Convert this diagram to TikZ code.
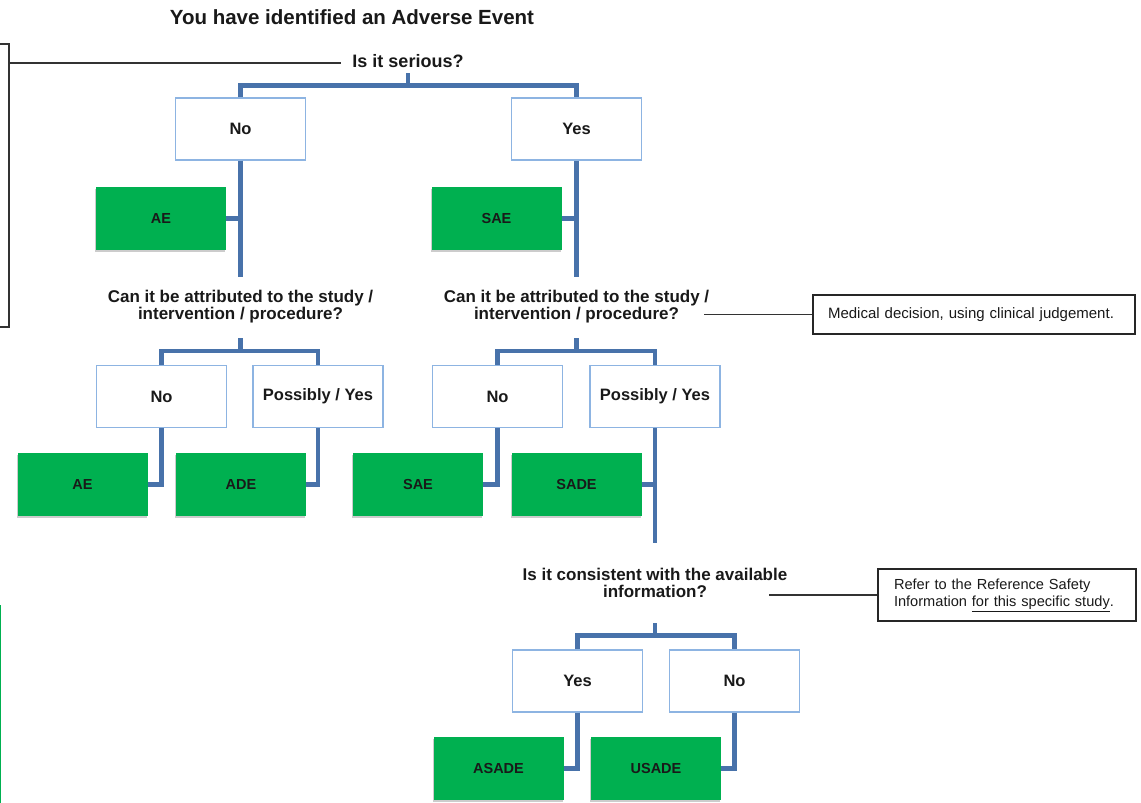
\documentclass[tikz,border=0pt]{standalone}
\usepackage{fontspec}
\setmainfont{Liberation Sans}
\usetikzlibrary{shadows,calc}
\definecolor{connc}{RGB}{72,114,170}
\definecolor{boxc}{RGB}{141,180,226}
\definecolor{greenc}{RGB}{0,176,80}
\begin{document}
\begin{tikzpicture}[x=1pt,y=-1pt,
 choice/.style={draw=boxc, line width=1.3pt, fill=white, minimum width=130pt, minimum height=62pt, font=\fontsize{16.5}{18}\selectfont\bfseries, inner sep=0pt, text=black!90},
 outcome/.style={fill=greenc, minimum width=130pt, minimum height=63pt, font=\fontsize{14.5}{16}\selectfont\bfseries, inner sep=0pt, text=black!90, drop shadow={shadow xshift=-1pt, shadow yshift=-2pt, opacity=0.2, fill=black}},
 question/.style={font=\fontsize{17}{17}\selectfont\bfseries, align=center, inner sep=0pt, text=black!90},
 conn/.style={draw=connc, line width=4.5pt},
 thinline/.style={draw=black!80, line width=1.2pt},
 note/.style={draw=black!85, line width=1.3pt, align=left, inner ysep=0pt, text=black!90}
]
\useasboundingbox (0,0) rectangle (1141,803);

% titles and questions
\node[question, font=\fontsize{20.5}{22}\selectfont\bfseries] (title) at (352,17) {You have identified an Adverse Event};
\node[question, font=\fontsize{18}{18}\selectfont\bfseries] (q1) at (408,61) {Is it serious?};
\node[question] (q2L) at (240.5,306.5) {Can it be attributed to the study /\\intervention / procedure?};
\node[question] (q2R) at (576.5,306.5) {Can it be attributed to the study /\\intervention / procedure?};
\node[question] (q3) at (655,582.5) {Is it consistent with the available\\information?};

% level 1
\node[choice] (no1) at (240.5,129) {No};
\node[choice] (yes1) at (576.5,129) {Yes};
\node[outcome] (ae1) at (161,218.5) {AE};
\node[outcome] (sae1) at (496.5,218.5) {SAE};

% level 2 left
\node[choice] (noL) at (161.5,396.5) {No};
\node[choice] (posL) at (318,396.5) {Possibly / Yes};
\node[outcome] (ae2) at (82.5,484.5) {AE};
\node[outcome] (ade) at (241,484.5) {ADE};

% level 2 right
\node[choice] (noR) at (497.5,396.5) {No};
\node[choice] (posR) at (655,396.5) {Possibly / Yes};
\node[outcome] (sae2) at (418,484.5) {SAE};
\node[outcome] (sade) at (576.5,484.5) {SADE};

% level 3
\node[choice] (yes3) at (577.5,681) {Yes};
\node[choice] (no3) at (734.5,681) {No};
\node[outcome] (asade) at (498.5,768.5) {ASADE};
\node[outcome] (usade) at (656,768.5) {USADE};

% notes
\node[note, font=\fontsize{15}{17.5}\selectfont, minimum width=322pt, minimum height=39pt, inner xsep=15pt, text width=292pt] (med) at (974,314.5) {Medical decision, using clinical judgement.};
\node[note, font=\fontsize{14.6}{17.5}\selectfont, minimum width=258pt, minimum height=52pt, inner xsep=16pt, text width=226pt] (ref) at (1007,595) {Refer to the Reference Safety\\\mbox{Information \underline{for this specific study}.}};

% coordinates
\coordinate (q1s) at (408,73);
\coordinate (e1) at (240.5,277);
\coordinate (e1r) at (576.5,277);
\coordinate (q2Ls) at (240.5,338);
\coordinate (q2Rs) at (576.5,338);
\coordinate (e2) at (655,543);
\coordinate (q3s) at (655,623);
\coordinate (brk) at (9,63);
\coordinate (q1w) at ($(q1.west)+(-11,2)$);

% blue connectors
\draw[conn] (q1s) -- ++(0,13);
\draw[conn] (no1.north) -- ++(0,-12) -| (yes1.north);
\draw[conn] (no1.south) -- (e1);
\draw[conn] (yes1.south) -- (e1r);
\draw[conn] (ae1.east) -- (ae1.east -| no1.south);
\draw[conn] (sae1.east) -- (sae1.east -| yes1.south);

\draw[conn] (q2Ls) -- ++(0,14);
\draw[conn] (noL.north) -- ++(0,-14) -| (posL.north);
\draw[conn] (noL.south) |- (ae2.east);
\draw[conn] (posL.south) |- (ade.east);

\draw[conn] (q2Rs) -- ++(0,14);
\draw[conn] (noR.north) -- ++(0,-14) -| (posR.north);
\draw[conn] (noR.south) |- (sae2.east);
\draw[conn] (posR.south) -- (e2);
\draw[conn] (sade.east) -- (sade.east -| posR.south);

\draw[conn] (q3s) -- ++(0,14);
\draw[conn] (yes3.north) -- ++(0,-14) -| (no3.north);
\draw[conn] (yes3.south) |- (asade.east);
\draw[conn] (no3.south) |- (usade.east);

% thin lines
\draw[thinline] (-1,44) -- (9,44) -- (9,327) -- (-1,327);
\draw[thinline] (brk) -- (q1w);
\draw[thinline] (med.west) -- ++(-108,0);
\draw[thinline] (ref.west) -- ++(-108,0);

% green edge line
\draw[draw=greenc, line width=1.5pt] (0.5,605) -- (0.5,803);
\end{tikzpicture}
\end{document}
